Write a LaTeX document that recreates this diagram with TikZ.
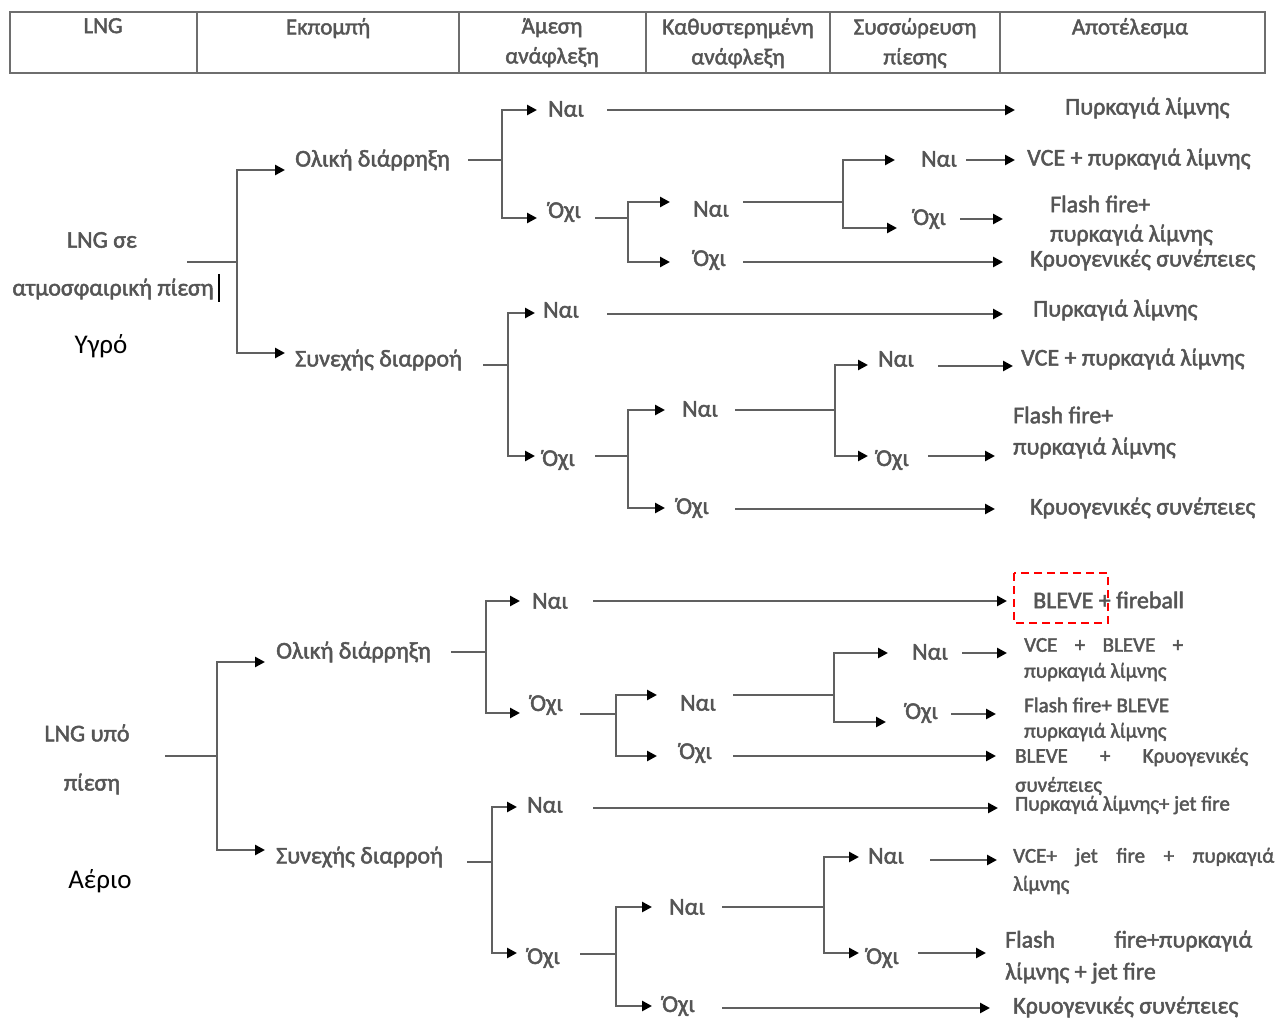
\documentclass[tikz,border=0pt]{standalone}
\usepackage{fontspec}
\setmainfont{Carlito}
\newfontfamily\inkfont{Carlito}[FakeBold=2]
\usetikzlibrary{arrows.meta}
\definecolor{ink}{HTML}{555555}
\definecolor{wirec}{HTML}{606060}
\definecolor{framec}{HTML}{6E6E6E}

% fork: stem from #2 to junction #4 at height #3, then branches to (#6,#5) and (#8,#7)
\newcommand\fork[8]{%
  \coordinate (#1s) at (#2,#3); \coordinate (#1j) at (#4,#3);
  \coordinate (#1t) at (#6,#5); \coordinate (#1b) at (#8,#7);
  \draw[wire] (#1s) -- (#1j);
  \draw[arr] (#1j) |- (#1t);
  \draw[arr] (#1j) |- (#1b);}
% straight arrow to an outcome
\newcommand\leaf[5]{%
  \coordinate (#1s) at (#2,#3); \coordinate (#1e) at (#4,#5);
  \draw[arr] (#1s) -- (#1e);}

\begin{document}
\begin{tikzpicture}[x=1pt,y=-1pt,
  wire/.style={draw=wirec,line width=2.8pt},
  arr/.style={wire,-{Triangle[length=10pt,width=10pt,color=black]}},
  lbl/.style={anchor=west,inner sep=0pt,text=ink,font=\inkfont\fontsize{24}{24}\selectfont},
  sm/.style={lbl,font=\inkfont\fontsize{21}{21}\selectfont},
  mid/.style={lbl,anchor=center},
  big/.style={anchor=center,inner sep=0pt,text=black,font=\fontsize{27}{27}\selectfont},
  hd/.style={anchor=north,inner sep=0pt,text=ink,align=center,font=\inkfont\fontsize{23}{30}\selectfont}
]
\useasboundingbox (0,0) rectangle (1286,1019);

% ---------- header table
\draw[draw=framec,line width=2.8pt] (10,12) rectangle (1265,73);
\foreach \cx in {197,459,646,830,1000}
  \draw[draw=framec,line width=2.6pt] (\cx,12) -- (\cx,73);
\node[hd] (h1) at (103,18) {LNG};
\node[hd] (h2) at (328,18) {Εκπομπή};
\node[hd] (h3) at (552,18) {Άμεση\\ανάφλεξη};
\node[hd] (h4) at (738,18) {Καθυστερημένη\\ανάφλεξη};
\node[hd] (h5) at (915,18) {Συσσώρευση\\πίεσης};
\node[hd] (h6) at (1130,18) {Αποτέλεσμα};

% ---------- liquid LNG tree
\node[mid] (la1) at (102,240) {LNG σε};
\node[mid] (la2) at (113,289) {ατμοσφαιρική πίεση};
\draw[black,line width=2.8pt] (219,274) -- (219,302);
\node[big] (ygro) at (101,346) {Υγρό};

\fork{A}{187}{262}{237}{170}{285}{353}{285}
\node[lbl] (A1) at (295,160) {Ολική διάρρηξη};
\node[lbl] (A2) at (295,360) {Συνεχής διαρροή};

\fork{Aa}{468}{160}{502}{110}{537}{218}{537}
\node[lbl] (A11) at (548,109) {Ναι};
\node[lbl] (A12) at (548,212) {Όχι};
\leaf{Ab}{607}{110}{1015}{110}
\node[lbl] (R1) at (1065,108) {Πυρκαγιά λίμνης};

\fork{Ac}{595}{218}{628}{202}{670}{262}{670}
\node[lbl] (A121) at (693,209) {Ναι};
\node[lbl] (A122) at (693,260) {Όχι};
\fork{Ad}{743}{202}{843}{160}{895}{228}{897}
\node[lbl] (A1211) at (921,159) {Ναι};
\node[lbl] (A1212) at (913,219) {Όχι};
\leaf{Ae}{966}{160}{1015}{160}
\node[lbl] (R2) at (1027,159) {VCE + πυρκαγιά λίμνης};
\leaf{Af}{960}{219}{1003}{219}
\node[lbl] (R3a) at (1050,204) {Flash fire+};
\node[lbl] (R3b) at (1050,235) {πυρκαγιά λίμνης};
\leaf{Ag}{743}{262}{1003}{262}
\node[lbl] (R4) at (1030,260) {Κρυογενικές συνέπειες};

\fork{Ba}{483}{365}{508}{313}{535}{456}{535}
\node[lbl] (A21) at (543,310) {Ναι};
\node[lbl] (A22) at (542,460) {Όχι};
\leaf{Bb}{607}{314}{1003}{314}
\node[lbl] (R5) at (1033,310) {Πυρκαγιά λίμνης};
\fork{Bc}{595}{456}{628}{410}{665}{508}{665}
\node[lbl] (A221) at (682,409) {Ναι};
\node[lbl] (A222) at (676,508) {Όχι};
\fork{Bd}{735}{410}{835}{365}{868}{456}{868}
\node[lbl] (A2211) at (878,359) {Ναι};
\node[lbl] (A2212) at (876,460) {Όχι};
\leaf{Be}{938}{366}{1013}{366}
\node[lbl] (R6) at (1021,359) {VCE + πυρκαγιά λίμνης};
\leaf{Bf}{928}{456}{995}{456}
\node[lbl] (R7a) at (1013,415) {Flash fire+};
\node[lbl] (R7b) at (1013,448) {πυρκαγιά λίμνης};
\leaf{Bg}{735}{509}{995}{509}
\node[lbl] (R8) at (1030,508) {Κρυογενικές συνέπειες};

% ---------- pressurised LNG tree
\node[mid] (lb1) at (87,733) {LNG υπό};
\node[mid] (lb2) at (92,784) {πίεση};
\node[big] (aerio) at (100,881) {Αέριο};

\fork{C}{165}{756}{217}{662}{265}{850}{265}
\node[lbl] (B1) at (276,652) {Ολική διάρρηξη};
\node[lbl] (B2) at (276,857) {Συνεχής διαρροή};

\fork{Ca}{451}{652}{486}{601}{520}{713}{520}
\node[lbl] (B11) at (532,601) {Ναι};
\node[lbl] (B12) at (530,705) {Όχι};
\leaf{Cb}{593}{601}{1007}{601}
\node[lbl] (S1) at (1033,600) {BLEVE + fireball};
\draw[red,line width=1.7pt,dash pattern=on 8pt off 5pt] (1014,573) rectangle (1108,623);

\fork{Cc}{580}{714}{616}{695}{657}{756}{657}
\node[lbl] (B121) at (680,703) {Ναι};
\node[lbl] (B122) at (679,753) {Όχι};
\fork{Cd}{733}{695}{834}{653}{888}{722}{886}
\node[lbl] (B1211) at (912,652) {Ναι};
\node[lbl] (B1212) at (905,713) {Όχι};
\leaf{Ce}{962}{653}{1007}{653}
\node[sm] (S2a) at (1024,645) {\makebox[159pt][s]{VCE + BLEVE +}};
\node[sm] (S2b) at (1024,672) {πυρκαγιά λίμνης};
\leaf{Cf}{951}{714}{996}{714}
\node[sm] (S3a) at (1024,705) {Flash fire+ BLEVE};
\node[sm] (S3b) at (1024,732) {πυρκαγιά λίμνης};
\leaf{Cg}{733}{756}{996}{756}
\node[sm] (S4a) at (1015,757) {\makebox[233pt][s]{BLEVE + Κρυογενικές}};
\node[sm] (S4b) at (1015,786) {συνέπειες};

\fork{Da}{467}{862}{492}{807}{517}{953}{517}
\node[lbl] (B21) at (527,805) {Ναι};
\node[lbl] (B22) at (527,958) {Όχι};
\leaf{Db}{593}{808}{998}{808}
\node[sm] (S5) at (1015,805) {Πυρκαγιά λίμνης+ jet fire};
\fork{Dc}{580}{954}{616}{907}{652}{1006}{652}
\node[lbl] (B221) at (669,907) {Ναι};
\node[lbl] (B222) at (662,1006) {Όχι};
\fork{Dd}{722}{907}{824}{857}{859}{953}{859}
\node[lbl] (B2211) at (868,856) {Ναι};
\node[lbl] (B2212) at (866,958) {Όχι};
\leaf{De}{930}{860}{997}{860}
\node[sm] (S6a) at (1013,857) {\makebox[261pt][s]{VCE+ jet fire + πυρκαγιά}};
\node[sm] (S6b) at (1013,885) {λίμνης};
\leaf{Df}{918}{953}{986}{953}
\node[lbl] (S7a) at (1005,941) {\makebox[247pt][s]{Flash fire+πυρκαγιά}};
\node[lbl] (S7b) at (1005,973) {λίμνης + jet fire};
\leaf{Dg}{722}{1008}{990}{1008}
\node[lbl] (S8) at (1013,1007) {Κρυογενικές συνέπειες};
\end{tikzpicture}
\end{document}
